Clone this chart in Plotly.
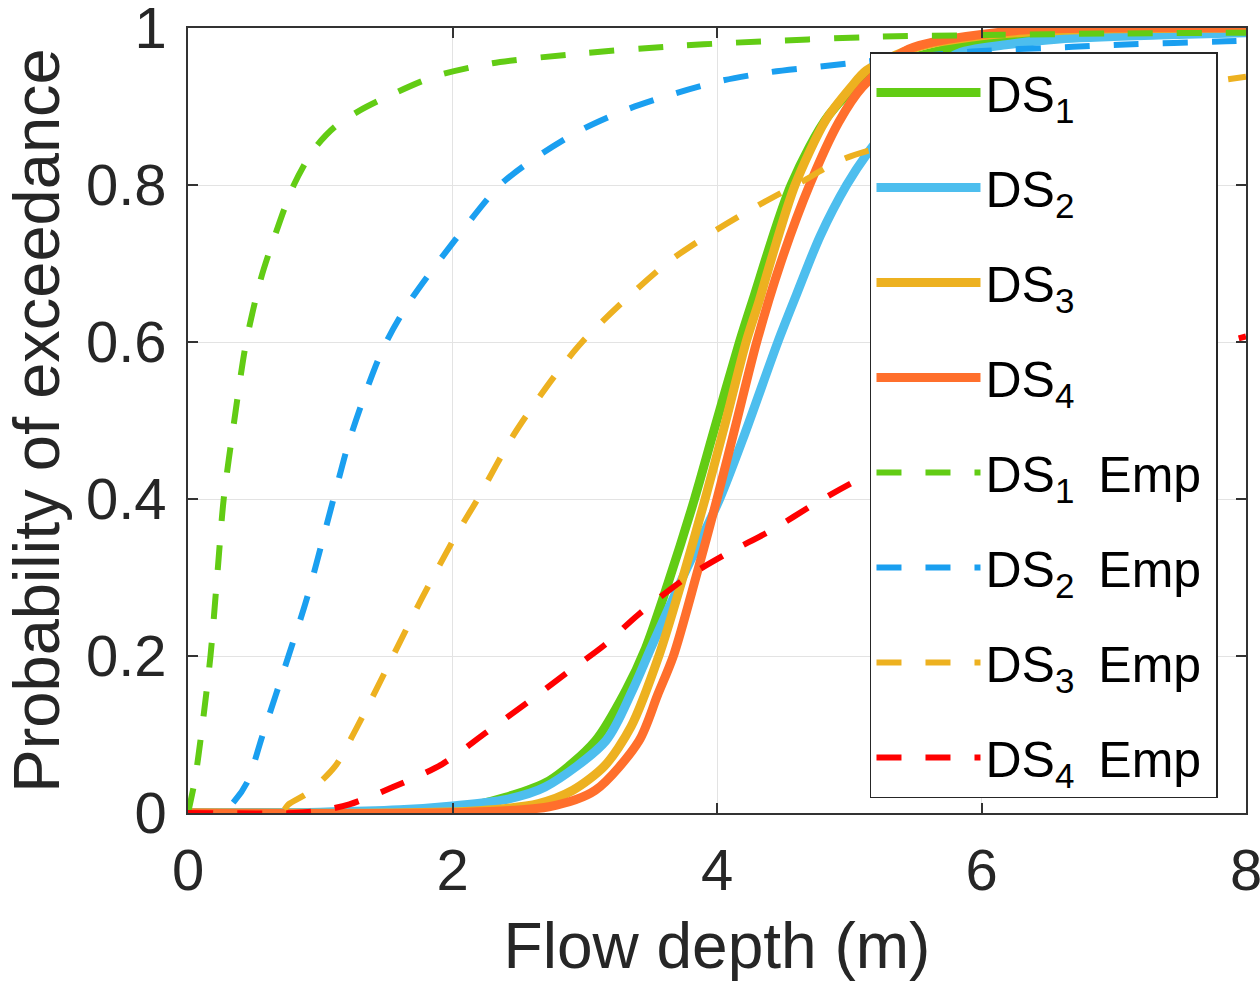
import plotly.graph_objects as go

# Fragility curves (solid) and empirical curves (dashed), flow depth in metres
ds1_x = [0, 1.5, 2.0, 2.4, 2.73, 3.08, 3.31, 3.46, 3.63, 3.83, 3.97, 4.17, 4.27, 4.56, 4.85, 5.2, 5.83, 6.5, 7.0, 8.0]
ds1_y = [0, 0.001, 0.005, 0.02, 0.041, 0.092, 0.156, 0.21, 0.293, 0.4, 0.483, 0.6, 0.653, 0.8, 0.89, 0.945, 0.977, 0.993, 0.997, 1.0]

ds2_x = [0, 1.0, 1.6, 2.0, 2.4, 2.7, 3.16, 3.36, 3.5, 3.74, 4.02, 4.21, 4.46, 4.6, 4.78, 4.98, 5.14, 5.47, 5.8, 6.2, 6.59, 7.34, 8.0]
ds2_y = [0, 0.001, 0.004, 0.009, 0.017, 0.033, 0.092, 0.156, 0.21, 0.3, 0.4, 0.483, 0.6, 0.66, 0.735, 0.8, 0.841, 0.91, 0.966, 0.979, 0.986, 0.991, 0.994]

ds3_x = [0, 1.5, 2.2, 2.65, 2.91, 3.15, 3.35, 3.56, 3.73, 3.91, 4.06, 4.22, 4.32, 4.41, 4.59, 4.82, 5.01, 5.13, 5.5, 6.0, 6.5, 7.0, 8.0]
ds3_y = [0, 0.0, 0.003, 0.012, 0.029, 0.06, 0.11, 0.2, 0.293, 0.4, 0.495, 0.6, 0.653, 0.705, 0.8, 0.882, 0.924, 0.946, 0.975, 0.99, 0.996, 0.999, 1.0]

ds4_x = [0, 2.0, 2.73, 3.08, 3.41, 3.55, 3.67, 3.84, 4.0, 4.15, 4.3, 4.48, 4.7, 4.92, 5.1, 5.45, 6.28, 7.0, 8.0]
ds4_y = [0, 0.0005, 0.008, 0.029, 0.092, 0.15, 0.2, 0.3, 0.4, 0.5, 0.6, 0.7, 0.8, 0.88, 0.925, 0.973, 0.997, 1.0, 1.0]

emp1_x = [0, 0.05, 0.1, 0.17, 0.22, 0.27, 0.35, 0.44, 0.55, 0.66, 0.8, 0.95, 1.11, 1.3, 1.5, 1.86, 2.3, 3.0, 3.6, 4.1, 5.25, 6.0, 7.0, 8.0]
emp1_y = [0, 0.04, 0.1, 0.2, 0.3, 0.4, 0.5, 0.6, 0.68, 0.737, 0.8, 0.845, 0.874, 0.895, 0.912, 0.938, 0.955, 0.968, 0.976, 0.981, 0.989, 0.991, 0.993, 0.994]

emp2_x = [0, 0.25, 0.35, 0.45, 0.56, 0.76, 0.9, 1.1, 1.23, 1.47, 1.67, 2.02, 2.36, 2.63, 2.97, 3.3, 3.67, 4.04, 4.41, 4.78, 5.11, 5.93, 6.69, 7.09, 7.85, 8.0]
emp2_y = [0, 0.0, 0.015, 0.04, 0.097, 0.2, 0.274, 0.4, 0.48, 0.59, 0.65, 0.73, 0.8, 0.835, 0.87, 0.895, 0.916, 0.933, 0.944, 0.951, 0.957, 0.97, 0.976, 0.979, 0.983, 0.984]

emp3_x = [0, 0.7, 0.76, 0.9, 1.11, 1.28, 1.55, 1.77, 2.02, 2.19, 2.46, 2.76, 2.98, 3.3, 3.64, 3.94, 4.3, 4.63, 4.97, 6.0, 7.0, 8.0]
emp3_y = [0, 0.0, 0.011, 0.025, 0.059, 0.11, 0.2, 0.274, 0.352, 0.4, 0.481, 0.554, 0.6, 0.653, 0.703, 0.737, 0.773, 0.803, 0.834, 0.88, 0.913, 0.938]

emp4_x = [0, 0.8, 1.0, 1.22, 1.55, 1.92, 2.25, 2.56, 2.86, 3.15, 3.4, 3.77, 4.08, 4.41, 4.74, 5.06, 6.0, 7.0, 8.0]
emp4_y = [0, 0.0, 0.003, 0.011, 0.033, 0.062, 0.102, 0.14, 0.178, 0.214, 0.252, 0.3, 0.331, 0.36, 0.394, 0.424, 0.5, 0.56, 0.607]

x_ticks = [0, 2, 4, 6, 8]
y_ticks = [0, 0.2, 0.4, 0.6, 0.8, 1]

# thin spaces widen the gap after the subscript and pad the legend's right edge
series = [
    ("DS<sub>1</sub>", ds1_x, ds1_y, "#62CC14", "solid", 9),
    ("DS<sub>2</sub>", ds2_x, ds2_y, "#4DBEEE", "solid", 9),
    ("DS<sub>3</sub>", ds3_x, ds3_y, "#EDB120", "solid", 9),
    ("DS<sub>4</sub>", ds4_x, ds4_y, "#FF6F2C", "solid", 9),
    ("DS<sub>1</sub> \u2009Emp\u2009", emp1_x, emp1_y, "#62CC14", "25px,24px", 6),
    ("DS<sub>2</sub> \u2009Emp\u2009", emp2_x, emp2_y, "#1A9FF0", "25px,24px", 6),
    ("DS<sub>3</sub> \u2009Emp\u2009", emp3_x, emp3_y, "#EDB120", "25px,24px", 6),
    ("DS<sub>4</sub> \u2009Emp\u2009", emp4_x, emp4_y, "#FF0000", "25px,24px", 6),
]

fig = go.Figure()
for name, xs, ys, color, dash, width in series:
    fig.add_trace(go.Scatter(
        x=xs, y=ys, mode="lines", name=name, legendgroup=name,
        line=dict(color=color, width=width, dash=dash, shape="spline", smoothing=0.8),
    ))

font_family = "Arial, Liberation Sans"
axis_common = dict(
    showline=True, linecolor="#333333", linewidth=1.5, mirror="allticks",
    ticks="inside", ticklen=10, tickwidth=1.5, tickcolor="#333333",
    showgrid=True, gridcolor="#E3E3E3", gridwidth=1, zeroline=False,
    ticklabeloverflow="allow", automargin=False,
    tickfont=dict(family=font_family, size=58, color="#262626"),
)

fig.update_xaxes(range=[0, 8], tickvals=x_ticks, ticklabelstandoff=6,
                 title=dict(text="Flow depth (m)", standoff=22,
                            font=dict(family=font_family, size=64, color="#262626")),
                 **axis_common)
fig.update_yaxes(range=[0, 1], tickvals=y_ticks, ticklabelstandoff=8,
                 title=dict(text="Probability of exceedance", standoff=12,
                            font=dict(family=font_family, size=65, color="#262626")),
                 **axis_common)

fig.update_layout(
    width=1260, height=985,
    margin=dict(l=188, r=14, t=28, b=172),
    plot_bgcolor="white", paper_bgcolor="white",
    legend=dict(
        x=0.6446, y=0.9694, xanchor="left", yanchor="top",
        bgcolor="white", bordercolor="#262626", borderwidth=1.5,
        font=dict(family=font_family, size=50, color="black"),
        itemwidth=104, tracegroupgap=27,
    ),
)

fig.write_html("out.html")
